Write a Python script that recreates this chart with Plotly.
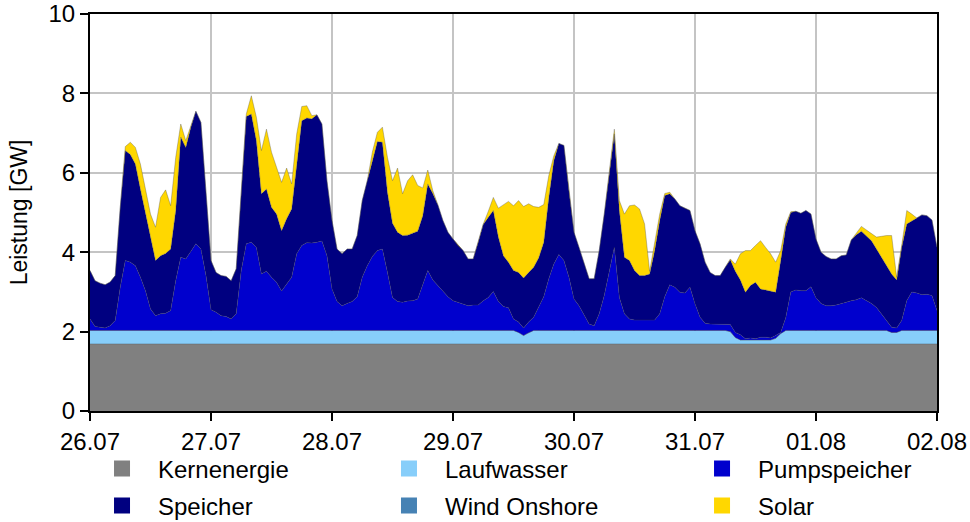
import pandas as pd
import plotly.graph_objects as go

# ---------------- data (GW, hourly, 26.07 00:00 .. 02.08 00:00) ----------------
start = "2021-07-26 00:00"
n_hours = 169
day_labels = ["26.07", "27.07", "28.07", "29.07", "30.07", "31.07", "01.08", "02.08"]

kernenergie = [
    1.69, 1.69, 1.69, 1.69, 1.69, 1.69, 1.69, 1.69, 1.69, 1.69, 1.69, 1.69,
    1.69, 1.69, 1.69, 1.69, 1.69, 1.69, 1.69, 1.69, 1.69, 1.69, 1.69, 1.69,
    1.69, 1.69, 1.69, 1.69, 1.69, 1.69, 1.69, 1.69, 1.69, 1.69, 1.69, 1.69,
    1.69, 1.69, 1.69, 1.69, 1.69, 1.69, 1.69, 1.69, 1.69, 1.69, 1.69, 1.69,
    1.69, 1.69, 1.69, 1.69, 1.69, 1.69, 1.69, 1.69, 1.69, 1.69, 1.69, 1.69,
    1.69, 1.69, 1.69, 1.69, 1.69, 1.69, 1.69, 1.69, 1.69, 1.69, 1.69, 1.69,
    1.69, 1.69, 1.69, 1.69, 1.69, 1.69, 1.69, 1.69, 1.69, 1.69, 1.69, 1.69,
    1.69, 1.69, 1.69, 1.69, 1.69, 1.69, 1.69, 1.69, 1.69, 1.69, 1.69, 1.69,
    1.69, 1.69, 1.69, 1.69, 1.69, 1.69, 1.69, 1.69, 1.69, 1.69, 1.69, 1.69,
    1.69, 1.69, 1.69, 1.69, 1.69, 1.69, 1.69, 1.69, 1.69, 1.69, 1.69, 1.69,
    1.69, 1.69, 1.69, 1.69, 1.69, 1.69, 1.69, 1.69, 1.69, 1.69, 1.69, 1.69,
    1.69, 1.69, 1.69, 1.69, 1.69, 1.69, 1.69, 1.69, 1.69, 1.69, 1.69, 1.69,
    1.69, 1.69, 1.69, 1.69, 1.69, 1.69, 1.69, 1.69, 1.69, 1.69, 1.69, 1.69,
    1.69, 1.69, 1.69, 1.69, 1.69, 1.69, 1.69, 1.69, 1.69, 1.69, 1.69, 1.69,
    1.69,
]

laufwasser = [
    0.34, 0.34, 0.34, 0.34, 0.34, 0.34, 0.34, 0.34, 0.34, 0.34, 0.34, 0.34,
    0.34, 0.34, 0.34, 0.34, 0.34, 0.34, 0.34, 0.34, 0.34, 0.34, 0.34, 0.34,
    0.34, 0.34, 0.34, 0.34, 0.34, 0.34, 0.34, 0.34, 0.34, 0.34, 0.34, 0.34,
    0.34, 0.34, 0.34, 0.34, 0.34, 0.34, 0.34, 0.34, 0.34, 0.34, 0.34, 0.34,
    0.34, 0.34, 0.34, 0.34, 0.34, 0.34, 0.34, 0.34, 0.34, 0.34, 0.34, 0.34,
    0.34, 0.34, 0.34, 0.34, 0.34, 0.34, 0.34, 0.34, 0.34, 0.34, 0.34, 0.34,
    0.34, 0.34, 0.34, 0.34, 0.34, 0.34, 0.34, 0.34, 0.34, 0.34, 0.34, 0.34,
    0.34, 0.29, 0.21, 0.28, 0.34, 0.34, 0.34, 0.34, 0.34, 0.34, 0.34, 0.34,
    0.34, 0.34, 0.34, 0.34, 0.34, 0.34, 0.34, 0.34, 0.34, 0.34, 0.34, 0.34,
    0.34, 0.34, 0.34, 0.34, 0.34, 0.34, 0.34, 0.34, 0.34, 0.34, 0.34, 0.34,
    0.34, 0.34, 0.34, 0.34, 0.34, 0.34, 0.34, 0.31, 0.16, 0.10, 0.10, 0.10,
    0.10, 0.10, 0.10, 0.10, 0.14, 0.26, 0.34, 0.34, 0.34, 0.34, 0.34, 0.34,
    0.34, 0.34, 0.34, 0.34, 0.34, 0.34, 0.34, 0.34, 0.34, 0.34, 0.34, 0.34,
    0.34, 0.34, 0.34, 0.29, 0.29, 0.34, 0.34, 0.34, 0.34, 0.34, 0.34, 0.34,
    0.34,
]

wind_onshore = [
    0.0, 0.0, 0.0, 0.0, 0.0, 0.0, 0.0, 0.0, 0.0, 0.0, 0.0, 0.0,
    0.0, 0.0, 0.0, 0.0, 0.0, 0.0, 0.0, 0.0, 0.0, 0.0, 0.0, 0.0,
    0.0, 0.0, 0.0, 0.0, 0.0, 0.0, 0.0, 0.0, 0.0, 0.0, 0.0, 0.0,
    0.0, 0.0, 0.0, 0.0, 0.0, 0.0, 0.0, 0.0, 0.0, 0.0, 0.0, 0.0,
    0.0, 0.0, 0.0, 0.0, 0.0, 0.0, 0.0, 0.0, 0.0, 0.0, 0.0, 0.0,
    0.0, 0.0, 0.0, 0.0, 0.0, 0.0, 0.0, 0.0, 0.0, 0.0, 0.0, 0.0,
    0.0, 0.0, 0.0, 0.0, 0.0, 0.0, 0.0, 0.0, 0.0, 0.0, 0.0, 0.0,
    0.0, 0.0, 0.0, 0.0, 0.0, 0.0, 0.0, 0.0, 0.0, 0.0, 0.0, 0.0,
    0.0, 0.0, 0.0, 0.0, 0.0, 0.0, 0.0, 0.0, 0.0, 0.0, 0.0, 0.0,
    0.0, 0.0, 0.0, 0.0, 0.0, 0.0, 0.0, 0.0, 0.0, 0.0, 0.0, 0.0,
    0.0, 0.0, 0.0, 0.0, 0.0, 0.0, 0.0, 0.0, 0.0, 0.0, 0.0, 0.0,
    0.0, 0.0, 0.0, 0.0, 0.0, 0.0, 0.0, 0.0, 0.0, 0.0, 0.0, 0.0,
    0.0, 0.0, 0.0, 0.0, 0.0, 0.0, 0.0, 0.0, 0.0, 0.0, 0.0, 0.0,
    0.0, 0.0, 0.0, 0.0, 0.0, 0.0, 0.0, 0.0, 0.0, 0.0, 0.0, 0.0,
    0.0,
]

pumpspeicher = [
    0.29, 0.10, 0.08, 0.06, 0.12, 0.25, 1.09, 1.76, 1.72, 1.63, 1.34, 1.00,
    0.54, 0.37, 0.42, 0.43, 0.50, 1.25, 1.84, 1.80, 1.99, 2.18, 2.05, 1.38,
    0.52, 0.46, 0.37, 0.35, 0.29, 0.42, 1.51, 2.18, 2.22, 2.09, 1.42, 1.49,
    1.34, 1.21, 0.99, 1.17, 1.34, 1.93, 2.14, 2.21, 2.20, 2.22, 2.25, 1.88,
    1.04, 0.73, 0.62, 0.68, 0.73, 0.85, 1.34, 1.63, 1.86, 2.01, 2.05, 1.46,
    0.83, 0.73, 0.71, 0.74, 0.75, 0.79, 1.13, 1.51, 1.27, 1.13, 1.00, 0.85,
    0.75, 0.71, 0.67, 0.62, 0.64, 0.64, 0.75, 0.83, 0.98, 0.73, 0.60, 0.57,
    0.29, 0.26, 0.19, 0.27, 0.33, 0.58, 0.85, 1.30, 1.67, 1.91, 1.76, 1.34,
    0.79, 0.62, 0.37, 0.16, 0.12, 0.42, 0.88, 1.51, 2.09, 0.83, 0.42, 0.29,
    0.26, 0.26, 0.26, 0.25, 0.26, 0.42, 0.85, 1.15, 1.09, 0.96, 0.94, 1.09,
    0.67, 0.33, 0.18, 0.16, 0.16, 0.15, 0.16, 0.18, 0.13, 0.13, 0.03, 0.05,
    0.03, 0.07, 0.07, 0.05, 0.07, 0.03, 0.32, 0.97, 1.02, 1.00, 1.00, 1.10,
    0.82, 0.68, 0.62, 0.62, 0.64, 0.67, 0.71, 0.75, 0.77, 0.82, 0.75, 0.68,
    0.58, 0.42, 0.25, 0.13, 0.11, 0.25, 0.75, 0.97, 0.94, 0.90, 0.91, 0.88,
    0.50,
]

speicher = [
    1.22, 1.15, 1.11, 1.09, 1.10, 1.13, 2.01, 2.77, 2.71, 2.56, 2.22, 1.97,
    1.81, 1.39, 1.46, 1.51, 1.55, 1.77, 3.03, 2.81, 3.13, 3.34, 3.19, 2.06,
    1.24, 1.00, 1.01, 1.01, 0.96, 1.13, 2.01, 3.21, 3.23, 2.69, 2.02, 2.07,
    1.76, 1.72, 1.52, 1.64, 1.72, 2.22, 3.14, 3.14, 3.13, 3.21, 2.95, 1.89,
    1.73, 1.32, 1.31, 1.37, 1.32, 1.54, 1.93, 2.14, 2.43, 2.75, 2.69, 2.02,
    1.87, 1.74, 1.68, 1.66, 1.70, 1.71, 1.76, 2.18, 2.18, 2.03, 1.77, 1.62,
    1.55, 1.43, 1.34, 1.18, 1.16, 1.58, 1.92, 2.02, 2.04, 1.62, 1.28, 1.15,
    1.22, 1.25, 1.26, 1.25, 1.26, 1.25, 1.37, 2.05, 2.61, 2.80, 2.90, 2.18,
    1.68, 1.47, 1.30, 1.14, 1.18, 1.59, 2.05, 2.43, 2.86, 2.19, 1.42, 1.47,
    1.25, 1.12, 1.12, 1.17, 1.75, 2.35, 2.55, 2.29, 2.22, 2.18, 2.14, 1.93,
    1.84, 1.85, 1.54, 1.30, 1.22, 1.23, 1.43, 1.63, 1.54, 1.38, 1.17, 1.32,
    1.42, 1.21, 1.19, 1.18, 1.09, 1.81, 2.28, 2.00, 1.98, 1.95, 2.02, 1.83,
    1.48, 1.29, 1.24, 1.18, 1.16, 1.21, 1.19, 1.53, 1.64, 1.68, 1.64, 1.58,
    1.47, 1.42, 1.38, 1.34, 1.21, 1.84, 1.93, 1.78, 1.89, 2.01, 1.98, 1.90,
    1.59,
]

solar = [
    0.00, 0.00, 0.00, 0.00, 0.00, 0.00, 0.00, 0.10, 0.31, 0.42, 0.63, 0.55,
    0.58, 0.84, 1.47, 1.60, 1.09, 1.34, 0.33, 0.17, 0.02, 0.00, 0.00, 0.00,
    0.00, 0.00, 0.00, 0.00, 0.00, 0.00, 0.00, 0.06, 0.46, 0.59, 1.09, 1.51,
    1.39, 1.16, 1.22, 1.28, 0.63, 0.80, 0.36, 0.31, 0.08, 0.00, 0.00, 0.00,
    0.00, 0.00, 0.00, 0.00, 0.00, 0.00, 0.00, 0.00, 0.20, 0.23, 0.38, 0.88,
    1.07, 1.62, 1.05, 1.37, 1.47, 1.15, 0.70, 0.35, 0.07, 0.00, 0.00, 0.00,
    0.00, 0.00, 0.00, 0.00, 0.00, 0.00, 0.01, 0.15, 0.33, 0.73, 1.29, 1.53,
    1.63, 1.81, 1.80, 1.73, 1.53, 1.27, 0.95, 0.55, 0.12, 0.00, 0.00, 0.00,
    0.00, 0.00, 0.00, 0.00, 0.00, 0.00, 0.00, 0.00, 0.12, 0.25, 1.09, 1.38,
    1.65, 1.68, 1.30, 0.07, 0.17, 0.16, 0.05, 0.04, 0.00, 0.00, 0.00, 0.00,
    0.00, 0.00, 0.00, 0.00, 0.00, 0.00, 0.00, 0.02, 0.18, 0.66, 1.05, 0.88,
    0.93, 1.22, 1.07, 0.94, 0.76, 0.25, 0.08, 0.02, 0.00, 0.00, 0.00, 0.00,
    0.00, 0.00, 0.00, 0.00, 0.00, 0.00, 0.00, 0.00, 0.04, 0.12, 0.14, 0.17,
    0.30, 0.53, 0.76, 0.97, 0.07, 0.05, 0.34, 0.18, 0.00, 0.00, 0.00, 0.00,
    0.00,
]

# ---------------- figure ----------------
times = pd.date_range(start, periods=n_hours, freq="h")
day_ticks = pd.date_range(start, periods=len(day_labels), freq="D")

colors = {
    "Kernenergie": "#808080",
    "Laufwasser": "#87CEFA",
    "Wind Onshore": "#4682B4",
    "Pumpspeicher": "#0000CD",
    "Speicher": "#000080",
    "Solar": "#FFD700",
}
stack = [
    ("Kernenergie", kernenergie),
    ("Laufwasser", laufwasser),
    ("Wind Onshore", wind_onshore),
    ("Pumpspeicher", pumpspeicher),
    ("Speicher", speicher),
    ("Solar", solar),
]

FONT = "Liberation Sans, Arial, Helvetica, sans-serif"
FS = 24

fig = go.Figure()
for name, vals in stack:
    fig.add_trace(go.Scatter(
        x=times, y=vals, name=name, stackgroup="one", mode="lines",
        line=dict(width=0.6, color="rgba(70,70,70,0.55)"),
        fillcolor=colors[name], showlegend=False, hoverinfo="x+y+name",
    ))

# legend entries: (legend id, name, x paper, y paper)
legend_entries = [
    ("legend", "Kernenergie", -0.0047, -0.146),
    ("legend2", "Laufwasser", 0.3341, -0.146),
    ("legend3", "Pumpspeicher", 0.7037, -0.146),
    ("legend4", "Speicher", -0.0047, -0.239),
    ("legend5", "Wind Onshore", 0.3341, -0.239),
    ("legend6", "Solar", 0.7037, -0.239),
]
legend_layout = {}
for leg, name, lx, ly in legend_entries:
    fig.add_trace(go.Scatter(
        x=[None], y=[None], mode="markers", name=name, legend=leg,
        showlegend=True,
        marker=dict(symbol="square", size=18, color=colors[name],
                    line=dict(width=0)),
    ))
    legend_layout[leg] = dict(
        x=lx, y=ly, xanchor="left", yanchor="middle", orientation="v",
        font=dict(family=FONT, size=FS, color="black"),
        bgcolor="rgba(0,0,0,0)", borderwidth=0, itemwidth=62,
        itemclick=False, itemdoubleclick=False,
    )

axis_common = dict(
    showgrid=True, gridcolor="#c4c4c4", gridwidth=2,
    showline=True, linecolor="black", linewidth=2, mirror=True,
    ticks="outside", ticklen=8, tickwidth=1.5, tickcolor="black",
    tickfont=dict(family=FONT, size=FS, color="black"),
    zeroline=False, automargin=False,
)

fig.update_layout(
    width=970, height=522,
    margin=dict(l=90, r=33, t=14, b=111, autoexpand=False),
    plot_bgcolor="white", paper_bgcolor="white",
    font=dict(family=FONT, size=FS, color="black"),
    xaxis=dict(
        range=[day_ticks[0], day_ticks[-1]],
        tickvals=list(day_ticks), ticktext=day_labels,
        **axis_common,
    ),
    yaxis=dict(
        range=[0, 10], dtick=2, tick0=0,
        title=dict(text="Leistung [GW]", font=dict(family=FONT, size=23, color="black"), standoff=14),
        **axis_common,
    ),
    showlegend=True,
    **legend_layout,
)

fig.write_html(
    "out.html",
    config={"displayModeBar": False},
    post_script="document.body.style.margin='0';",
)
